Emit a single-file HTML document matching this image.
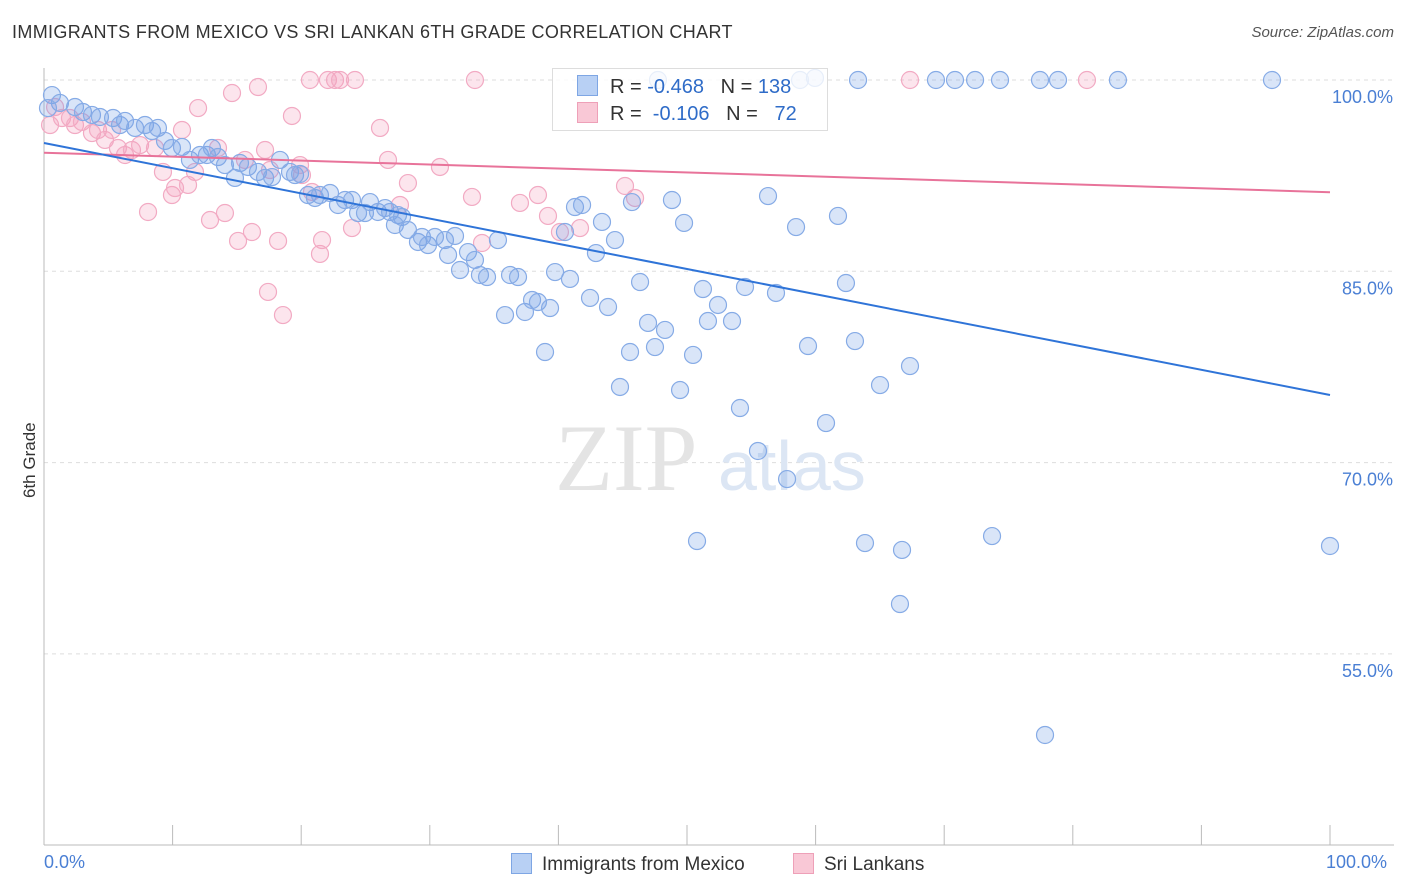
<!DOCTYPE html>
<html><head><meta charset="utf-8"><style>
body{margin:0;background:#fff;font-family:"Liberation Sans",sans-serif;}
#wrap{position:relative;width:1406px;height:892px;overflow:hidden;}
.t{position:absolute;white-space:nowrap;}
</style></head><body>
<div id="wrap">
<div class="t" style="left:12px;top:22px;font-size:18px;letter-spacing:0.35px;color:#333;">IMMIGRANTS FROM MEXICO VS SRI LANKAN 6TH GRADE CORRELATION CHART</div>
<div class="t" style="right:12px;top:24px;font-size:15px;color:#555;font-style:italic;">Source: ZipAtlas.com</div>
<svg id="svg" width="1406" height="892" style="position:absolute;left:0;top:0"></svg>
<div class="t" style="left:20px;font-size:17px;color:#333;transform:rotate(-90deg);transform-origin:0 0;top:498px;">6th Grade</div>
<div class="t" style="left:44px;top:852px;font-size:18px;color:#4a7fd4;">0.0%</div>
<div class="t" style="left:1326px;top:852px;font-size:18px;color:#4a7fd4;">100.0%</div>
<div class="t" style="left:511px;top:853px;font-size:19px;color:#333;"><span style="display:inline-block;width:19px;height:19px;background:#b8d0f4;border:1px solid #7ea6e4;vertical-align:-4px;margin-right:10px"></span>Immigrants from Mexico</div>
<div class="t" style="left:793px;top:853px;font-size:19px;color:#333;"><span style="display:inline-block;width:19px;height:19px;background:#f9c8d6;border:1px solid #eea0b8;vertical-align:-4px;margin-right:10px"></span>Sri Lankans</div>
<div class="t" style="left:552px;top:68px;width:274px;height:61px;border:1px solid #ddd;background:rgba(255,255,255,0.8);font-size:20px;color:#333;">
<div style="position:absolute;left:24px;top:6px"><span style="display:inline-block;width:19px;height:19px;background:#b8d0f4;border:1px solid #7ea6e4;vertical-align:-3px;margin-right:12px"></span>R = <span style="color:#2f6cc8">-0.468</span>&nbsp;&nbsp;&nbsp;N = <span style="color:#2f6cc8">138</span></div>
<div style="position:absolute;left:24px;top:33px"><span style="display:inline-block;width:19px;height:19px;background:#f9c8d6;border:1px solid #eea0b8;vertical-align:-3px;margin-right:12px"></span>R = &nbsp;<span style="color:#2f6cc8">-0.106</span>&nbsp;&nbsp;&nbsp;N = &nbsp;&nbsp;<span style="color:#2f6cc8">72</span></div>
</div>
</div>
<script>
const yTicks=[100,85,70,55];
const yTickLabels=["100.0%","85.0%","70.0%","55.0%"];
const bluePx=[[52,95],[60,103],[48,108],[75,107],[83,112],[92,115],[100,117],[113,118],[120,125],[125,121],[135,128],[145,125],[152,131],[158,128],[165,141],[172,148],[182,147],[190,160],[200,155],[207,155],[212,148],[218,157],[225,165],[235,178],[240,163],[248,167],[258,172],[265,178],[272,177],[280,160],[290,172],[295,175],[300,174],[308,195],[315,198],[320,195],[330,193],[338,205],[345,200],[352,200],[358,213],[365,213],[370,202],[378,212],[385,208],[390,212],[398,215],[402,217],[395,225],[408,230],[418,242],[422,237],[428,245],[435,237],[445,240],[448,255],[455,236],[460,270],[468,252],[475,260],[480,275],[487,277],[498,240],[505,315],[510,275],[518,277],[525,312],[532,300],[538,302],[545,352],[550,308],[555,272],[565,232],[570,279],[575,207],[582,205],[590,298],[596,253],[602,222],[608,307],[615,240],[620,387],[630,352],[632,202],[640,282],[648,323],[655,347],[665,330],[672,200],[680,390],[684,223],[693,355],[697,541],[703,289],[708,321],[718,305],[732,321],[740,408],[745,287],[758,451],[768,196],[776,293],[787,479],[796,227],[808,346],[826,423],[838,216],[846,283],[855,341],[858,80],[865,543],[880,385],[900,604],[902,550],[910,366],[936,80],[955,80],[975,80],[992,536],[1000,80],[1040,80],[1045,735],[1058,80],[1118,80],[1272,80],[1330,546],[815,78],[800,80],[658,80]];
const pinkPx=[[50,125],[55,107],[62,118],[70,118],[75,125],[82,122],[92,133],[98,130],[105,140],[112,130],[118,148],[125,155],[132,150],[140,145],[148,212],[155,148],[163,172],[172,195],[175,188],[182,130],[188,185],[195,172],[198,108],[210,220],[218,148],[225,213],[232,93],[238,241],[245,160],[252,232],[258,87],[265,150],[270,170],[278,241],[268,292],[283,315],[292,116],[300,165],[302,175],[310,80],[312,192],[320,254],[322,240],[328,80],[335,80],[340,80],[352,228],[355,80],[380,128],[388,160],[400,205],[408,183],[440,167],[472,197],[475,80],[482,243],[520,203],[538,195],[548,216],[560,232],[580,228],[625,186],[635,198],[910,80],[1087,80]];
const blueX=bluePx.map(p=>+((p[0]-44)/12.86).toFixed(2));
const blueY=bluePx.map(p=>+(100-(p[1]-80)/12.753).toFixed(2));
const pinkX=pinkPx.map(p=>+((p[0]-44)/12.86).toFixed(2));
const pinkY=pinkPx.map(p=>+(100-(p[1]-80)/12.753).toFixed(2));
const blueTrend=[95.06,75.3];
const pinkTrend=[94.3,91.2];
const sx=v=>44+v*12.86, sy=v=>80+(100-v)*12.753;
const svg=document.getElementById('svg');const NS='http://www.w3.org/2000/svg';
function mk(t,a){const e=document.createElementNS(NS,t);for(const k in a)e.setAttribute(k,a[k]);svg.appendChild(e);return e;}
yTicks.forEach((v,i)=>{const g=mk('line',{x1:44,x2:1394,y1:sy(v),y2:sy(v),stroke:'#ddd','stroke-dasharray':'4,4'});


const t=mk('text',{x:1393,y:sy(v)+23,'text-anchor':'end','font-size':18,fill:'#4a7fd4','font-family':'Liberation Sans'});t.textContent=yTickLabels[i];

});
const ax=mk('line',{x1:44,x2:1394,y1:845,y2:845,stroke:'#bbb'});


const ay=mk('line',{x1:44,x2:44,y1:68,y2:845,stroke:'#bbb'});


for(let i=0;i<=10;i++){const t=mk('line',{x1:sx(i*10),x2:sx(i*10),y1:825,y2:845,stroke:'#bbb'});

}
const wm=mk('text',{x:555,y:490,'font-size':95,fill:'#e4e4e4','font-family':'Liberation Serif'});wm.textContent='ZIP';


const wm2=mk('text',{x:718,y:490,'font-size':70,fill:'#dce6f4','font-family':'Liberation Sans'});wm2.textContent='atlas';


pinkX.forEach((x,i)=>{const c=mk('circle',{cx:sx(x),cy:sy(pinkY[i]),r:8.5,fill:'rgba(244,160,190,0.28)',stroke:'#f2aac3','stroke-width':1.2});

});
blueX.forEach((x,i)=>{const c=mk('circle',{cx:sx(x),cy:sy(blueY[i]),r:8.5,fill:'rgba(120,160,230,0.28)',stroke:'#86abe6','stroke-width':1.2});

});
const l1=mk('line',{x1:sx(0),x2:sx(100),y1:sy(pinkTrend[0]),y2:sy(pinkTrend[1]),stroke:'#e8739a','stroke-width':2});


const l2=mk('line',{x1:sx(0),x2:sx(100),y1:sy(blueTrend[0]),y2:sy(blueTrend[1]),stroke:'#2f74d8','stroke-width':2});


</script>
</body></html>
